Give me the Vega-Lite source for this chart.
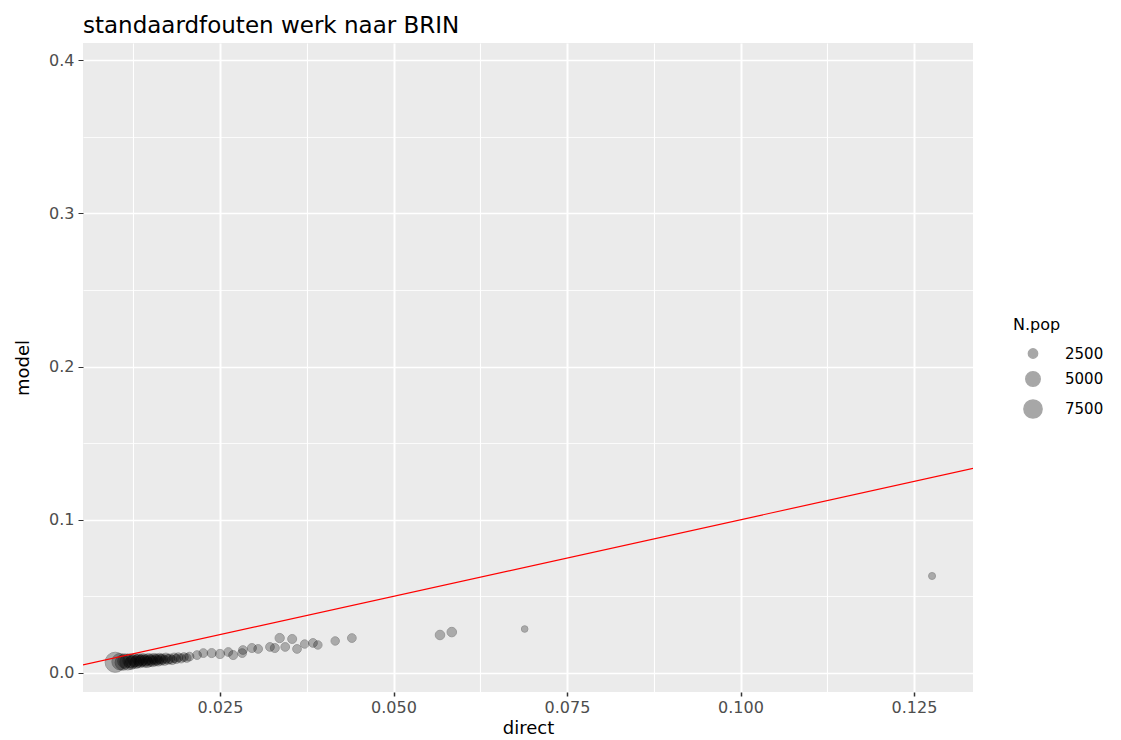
{
  "$schema": "https://vega.github.io/schema/vega-lite/v6.json",
  "width": 890,
  "height": 649,
  "autosize": "none",
  "padding": {"left": 83, "top": 43, "right": 148, "bottom": 48},
  "background": "white",
  "title": {
    "text": "standaardfouten werk naar BRIN",
    "anchor": "start",
    "frame": "group",
    "font": "DejaVu Sans",
    "fontSize": 23,
    "fontWeight": "normal",
    "color": "#000000",
    "baseline": "bottom",
    "offset": 6,
    "dy": 24
  },
  "config": {
    "view": {"fill": "#EBEBEB", "stroke": null},
    "axis": {
      "domain": false,
      "labelFont": "DejaVu Sans",
      "labelFontSize": 16,
      "labelColor": "#4D4D4D",
      "labelOverlap": false,
      "labelFlush": false,
      "tickColor": "#333333",
      "titleFont": "DejaVu Sans",
      "titleFontSize": 18,
      "titleFontWeight": "normal",
      "titleColor": "#000000",
      "gridColor": "#FFFFFF",
      "gridOpacity": 1
    },
    "legend": {
      "orient": "none",
      "legendX": 930,
      "legendY": 274,
      "titleFont": "DejaVu Sans",
      "titleFontSize": 16,
      "titleFontWeight": "normal",
      "titleColor": "#000000",
      "labelFont": "DejaVu Sans",
      "labelFontSize": 15,
      "labelColor": "#000000",
      "rowPadding": 6,
      "titlePadding": 13,
      "symbolOffset": 10,
      "labelOffset": 22
    }
  },
  "datasets": {
    "pts": [
      {"direct": 0.0099, "model": 0.0070, "Npop": 9000},
      {"direct": 0.0106, "model": 0.0074, "Npop": 6200},
      {"direct": 0.0110, "model": 0.0068, "Npop": 5600},
      {"direct": 0.0113, "model": 0.0078, "Npop": 5000},
      {"direct": 0.0117, "model": 0.0071, "Npop": 5800},
      {"direct": 0.0120, "model": 0.0080, "Npop": 4600},
      {"direct": 0.0122, "model": 0.0066, "Npop": 4200},
      {"direct": 0.0124, "model": 0.0075, "Npop": 4400},
      {"direct": 0.0127, "model": 0.0083, "Npop": 4100},
      {"direct": 0.0129, "model": 0.0070, "Npop": 3900},
      {"direct": 0.0131, "model": 0.0078, "Npop": 4000},
      {"direct": 0.0133, "model": 0.0086, "Npop": 3700},
      {"direct": 0.0135, "model": 0.0074, "Npop": 3800},
      {"direct": 0.0137, "model": 0.0081, "Npop": 3600},
      {"direct": 0.0139, "model": 0.0089, "Npop": 3500},
      {"direct": 0.0141, "model": 0.0077, "Npop": 3600},
      {"direct": 0.0143, "model": 0.0084, "Npop": 3400},
      {"direct": 0.0145, "model": 0.0072, "Npop": 3300},
      {"direct": 0.0147, "model": 0.0091, "Npop": 3300},
      {"direct": 0.0149, "model": 0.0080, "Npop": 3400},
      {"direct": 0.0151, "model": 0.0087, "Npop": 3200},
      {"direct": 0.0153, "model": 0.0076, "Npop": 3100},
      {"direct": 0.0155, "model": 0.0093, "Npop": 3100},
      {"direct": 0.0157, "model": 0.0083, "Npop": 3200},
      {"direct": 0.0159, "model": 0.0089, "Npop": 3000},
      {"direct": 0.0161, "model": 0.0079, "Npop": 2900},
      {"direct": 0.0163, "model": 0.0095, "Npop": 2900},
      {"direct": 0.0165, "model": 0.0086, "Npop": 3000},
      {"direct": 0.0167, "model": 0.0091, "Npop": 2800},
      {"direct": 0.0170, "model": 0.0082, "Npop": 2700},
      {"direct": 0.0172, "model": 0.0097, "Npop": 2800},
      {"direct": 0.0175, "model": 0.0089, "Npop": 2700},
      {"direct": 0.0178, "model": 0.0093, "Npop": 2600},
      {"direct": 0.0181, "model": 0.0085, "Npop": 2500},
      {"direct": 0.0184, "model": 0.0099, "Npop": 2600},
      {"direct": 0.0187, "model": 0.0092, "Npop": 2500},
      {"direct": 0.0190, "model": 0.0102, "Npop": 2400},
      {"direct": 0.0194, "model": 0.0095, "Npop": 2400},
      {"direct": 0.0198, "model": 0.0104, "Npop": 2300},
      {"direct": 0.0202, "model": 0.0098, "Npop": 2300},
      {"direct": 0.0206, "model": 0.0107, "Npop": 2300},
      {"direct": 0.0217, "model": 0.0117, "Npop": 2300},
      {"direct": 0.0226, "model": 0.0130, "Npop": 2300},
      {"direct": 0.0238, "model": 0.0130, "Npop": 2400},
      {"direct": 0.0250, "model": 0.0124, "Npop": 2500},
      {"direct": 0.0262, "model": 0.0137, "Npop": 2300},
      {"direct": 0.0269, "model": 0.0117, "Npop": 2400},
      {"direct": 0.0282, "model": 0.0130, "Npop": 2300},
      {"direct": 0.0283, "model": 0.0150, "Npop": 2300},
      {"direct": 0.0296, "model": 0.0163, "Npop": 2400},
      {"direct": 0.0305, "model": 0.0157, "Npop": 2300},
      {"direct": 0.0322, "model": 0.0170, "Npop": 2300},
      {"direct": 0.0329, "model": 0.0163, "Npop": 2400},
      {"direct": 0.0336, "model": 0.0228, "Npop": 2500},
      {"direct": 0.0354, "model": 0.0222, "Npop": 2400},
      {"direct": 0.0344, "model": 0.0170, "Npop": 2300},
      {"direct": 0.0361, "model": 0.0157, "Npop": 2300},
      {"direct": 0.0372, "model": 0.0189, "Npop": 2200},
      {"direct": 0.0384, "model": 0.0196, "Npop": 2300},
      {"direct": 0.0391, "model": 0.0183, "Npop": 2200},
      {"direct": 0.0416, "model": 0.0209, "Npop": 2200},
      {"direct": 0.0440, "model": 0.0228, "Npop": 2300},
      {"direct": 0.0567, "model": 0.0248, "Npop": 2600},
      {"direct": 0.0584, "model": 0.0267, "Npop": 2600},
      {"direct": 0.0689, "model": 0.0287, "Npop": 1650},
      {"direct": 0.1276, "model": 0.0633, "Npop": 1750}
    ],
    "abline": [
      {"direct": 0.0, "model": 0.0},
      {"direct": 0.2, "model": 0.2}
    ]
  },
  "layer": [
    {
      "data": {"name": "pts"},
      "mark": {
        "type": "point",
        "shape": "circle",
        "filled": true,
        "color": "#000000",
        "stroke": "#000000",
        "strokeWidth": 1,
        "opacity": 0.34,
        "fillOpacity": 0.8,
        "strokeOpacity": 1
      },
      "encoding": {
        "x": {
          "field": "direct",
          "type": "quantitative",
          "title": "direct",
          "scale": {"domain": [0.00526, 0.1335], "nice": false, "zero": false},
          "axis": {
            "values": [0.0125, 0.025, 0.0375, 0.05, 0.0625, 0.075, 0.0875, 0.1, 0.1125, 0.125],
            "labelExpr": "abs(datum.value*40-round(datum.value*40))<0.001 ? format(datum.value, '.3f') : ''",
            "grid": true,
            "gridWidth": {"condition": {"test": "abs(datum.value*40-round(datum.value*40))<0.001", "value": 2}, "value": 1.1},
            "tickOpacity": {"condition": {"test": "abs(datum.value*40-round(datum.value*40))<0.001", "value": 1}, "value": 0},
            "tickSize": 4,
            "tickWidth": 1.5,
            "labelPadding": 3,
            "titlePadding": 4
          }
        },
        "y": {
          "field": "model",
          "type": "quantitative",
          "title": "model",
          "scale": {"domain": [-0.0124, 0.4111], "nice": false, "zero": false},
          "axis": {
            "values": [0, 0.05, 0.1, 0.15, 0.2, 0.25, 0.3, 0.35, 0.4],
            "labelExpr": "abs(datum.value*10-round(datum.value*10))<0.001 ? format(datum.value, '.1f') : ''",
            "grid": true,
            "gridWidth": {"condition": {"test": "abs(datum.value*10-round(datum.value*10))<0.001", "value": 1.5}, "value": 0.8},
            "tickOpacity": {"condition": {"test": "abs(datum.value*10-round(datum.value*10))<0.001", "value": 1}, "value": 0},
            "tickSize": 5,
            "tickWidth": 1,
            "labelPadding": 4,
            "titlePadding": 16
          }
        },
        "size": {
          "field": "Npop",
          "type": "quantitative",
          "title": "N.pop",
          "scale": {"domain": [900, 9100], "range": [7, 410]},
          "legend": {"values": [2500, 5000, 7500], "format": "d"}
        }
      }
    },
    {
      "data": {"name": "abline"},
      "mark": {"type": "line", "color": "#FF0000", "strokeWidth": 1.2, "clip": true},
      "encoding": {
        "x": {"field": "direct", "type": "quantitative"},
        "y": {"field": "model", "type": "quantitative"}
      }
    }
  ]
}
